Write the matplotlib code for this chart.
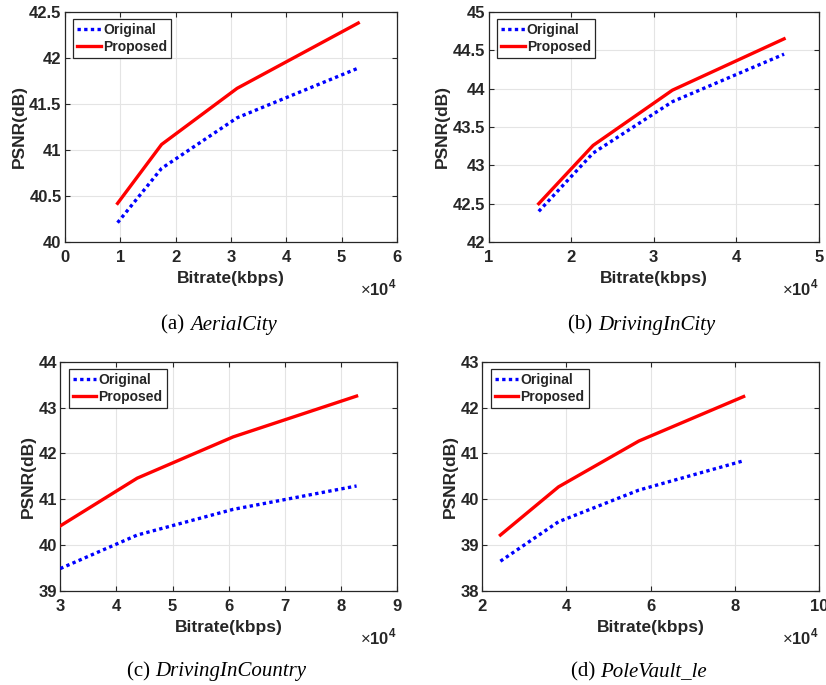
import numpy as np
import matplotlib.pyplot as plt
from matplotlib.ticker import FuncFormatter

plt.rcParams['font.family'] = 'Liberation Sans'
plt.rcParams['mathtext.fontset'] = 'custom'
plt.rcParams['mathtext.rm'] = 'Liberation Sans'
plt.rcParams['mathtext.bf'] = 'Liberation Sans:bold'

# bitrate in kbps, PSNR in dB
names = ["AerialCity", "DrivingInCity", "DrivingInCountry", "PoleVault_le"]
letters = ["a", "b", "c", "d"]

rate_a = [9500, 17450, 31100, 53000]
orig_a = [40.21, 40.80, 41.35, 41.89]
prop_a = [40.42, 41.06, 41.67, 42.38]

rate_b = [16060, 22650, 32260, 45800]
orig_b = [42.40, 43.16, 43.83, 44.45]
prop_b = [42.50, 43.26, 43.98, 44.65]

rate_c = [30000, 43700, 60800, 82800]
orig_c = [39.49, 40.22, 40.78, 41.29]
prop_c = [40.42, 41.46, 42.36, 43.25]

rate_d = [24300, 38100, 57200, 82100]
orig_d = [38.65, 39.51, 40.20, 40.84]
prop_d = [39.22, 40.27, 41.27, 42.24]

rates = [rate_a, rate_b, rate_c, rate_d]
origs = [orig_a, orig_b, orig_c, orig_d]
props = [prop_a, prop_b, prop_c, prop_d]

xlims = [(0, 6), (1, 5), (3, 9), (2, 10)]
xticks = [np.arange(0, 7), np.arange(1, 6), np.arange(3, 10), np.arange(2, 11, 2)]
ylims = [(40, 42.5), (42, 45), (39, 44), (38, 43)]
yticks = [np.arange(40, 42.51, 0.5), np.arange(42, 45.01, 0.5), np.arange(39, 45), np.arange(38, 44)]

# axes rectangles in figure fractions [left, bottom, width, height]
rects = [
    [0.0787, 0.6467, 0.4019, 0.3358],
    [0.5917, 0.6467, 0.3995, 0.3358],
    [0.0730, 0.1372, 0.4076, 0.3348],
    [0.5839, 0.1372, 0.4076, 0.3348],
]
caption_y = [0.5255, 0.5255, 0.019, 0.019]

dark = '#262626'
fig = plt.figure(figsize=(8.26, 6.85), dpi=100)
renderer = fig.canvas.get_renderer()

for i in range(4):
    ax = fig.add_axes(rects[i])
    x = np.array(rates[i]) / 1e4
    ax.plot(x, origs[i], color='#0000ff', lw=2.4, linestyle=(0, (1, 1)),
            dash_capstyle='butt', label='Original', zorder=3)
    ax.plot(x, props[i], color='#ff0000', lw=2.4, label='Proposed', zorder=3)
    ax.set_xlim(*xlims[i])
    ax.set_ylim(*ylims[i])
    ax.set_xticks(xticks[i])
    ax.set_yticks(yticks[i])
    ax.yaxis.set_major_formatter(FuncFormatter(lambda v, p: f"{v:g}"))
    ax.grid(True, color='#e4e4e4', lw=0.8)
    ax.set_axisbelow(True)
    ax.tick_params(direction='in', length=3.5, width=0.8, colors=dark,
                   top=True, right=True, labelsize=12)
    ax.tick_params(axis='x', pad=6)
    ax.tick_params(axis='y', pad=2.5)
    for lab in ax.get_xticklabels() + ax.get_yticklabels():
        lab.set_fontweight('bold')
    for s in ax.spines.values():
        s.set_color(dark)
        s.set_linewidth(0.9)
    ax.set_xlabel('Bitrate(kbps)', fontsize=12.5, fontweight='bold', color=dark, labelpad=4)
    ax.set_ylabel('PSNR(dB)', fontsize=12.5, fontweight='bold', color=dark, labelpad=2)
    ax.text(1.0, -0.155, r'$\times\mathbf{10}^{\mathbf{4}}$', transform=ax.transAxes,
            ha='right', va='top', fontsize=12, color=dark)
    leg = ax.legend(loc='upper left', bbox_to_anchor=(0.025, 0.97),
                    prop={'weight': 'bold', 'size': 10}, fancybox=False,
                    edgecolor=dark, framealpha=1, handlelength=1.7, handletextpad=0.15,
                    borderpad=0.3, labelspacing=0.2, borderaxespad=0)
    leg.get_frame().set_linewidth(0.9)
    for t in leg.get_texts():
        t.set_color(dark)

    # caption: "(x) " upright + italic name, centred as one piece
    cx = rects[i][0] + rects[i][2] / 2 - 12 / 826
    t1 = fig.text(cx, caption_y[i], f"({letters[i]}) ", ha='left', va='center',
                  fontsize=15, family='Liberation Serif', color='black')
    t2 = fig.text(cx, caption_y[i], names[i], ha='left', va='center',
                  fontsize=15, family='Liberation Serif', style='italic', color='black')
    w1 = t1.get_window_extent(renderer).width / fig.bbox.width
    w2 = t2.get_window_extent(renderer).width / fig.bbox.width
    start = cx - (w1 + w2) / 2
    t1.set_x(start)
    t2.set_x(start + w1)

fig.savefig('out.png', dpi=100)
